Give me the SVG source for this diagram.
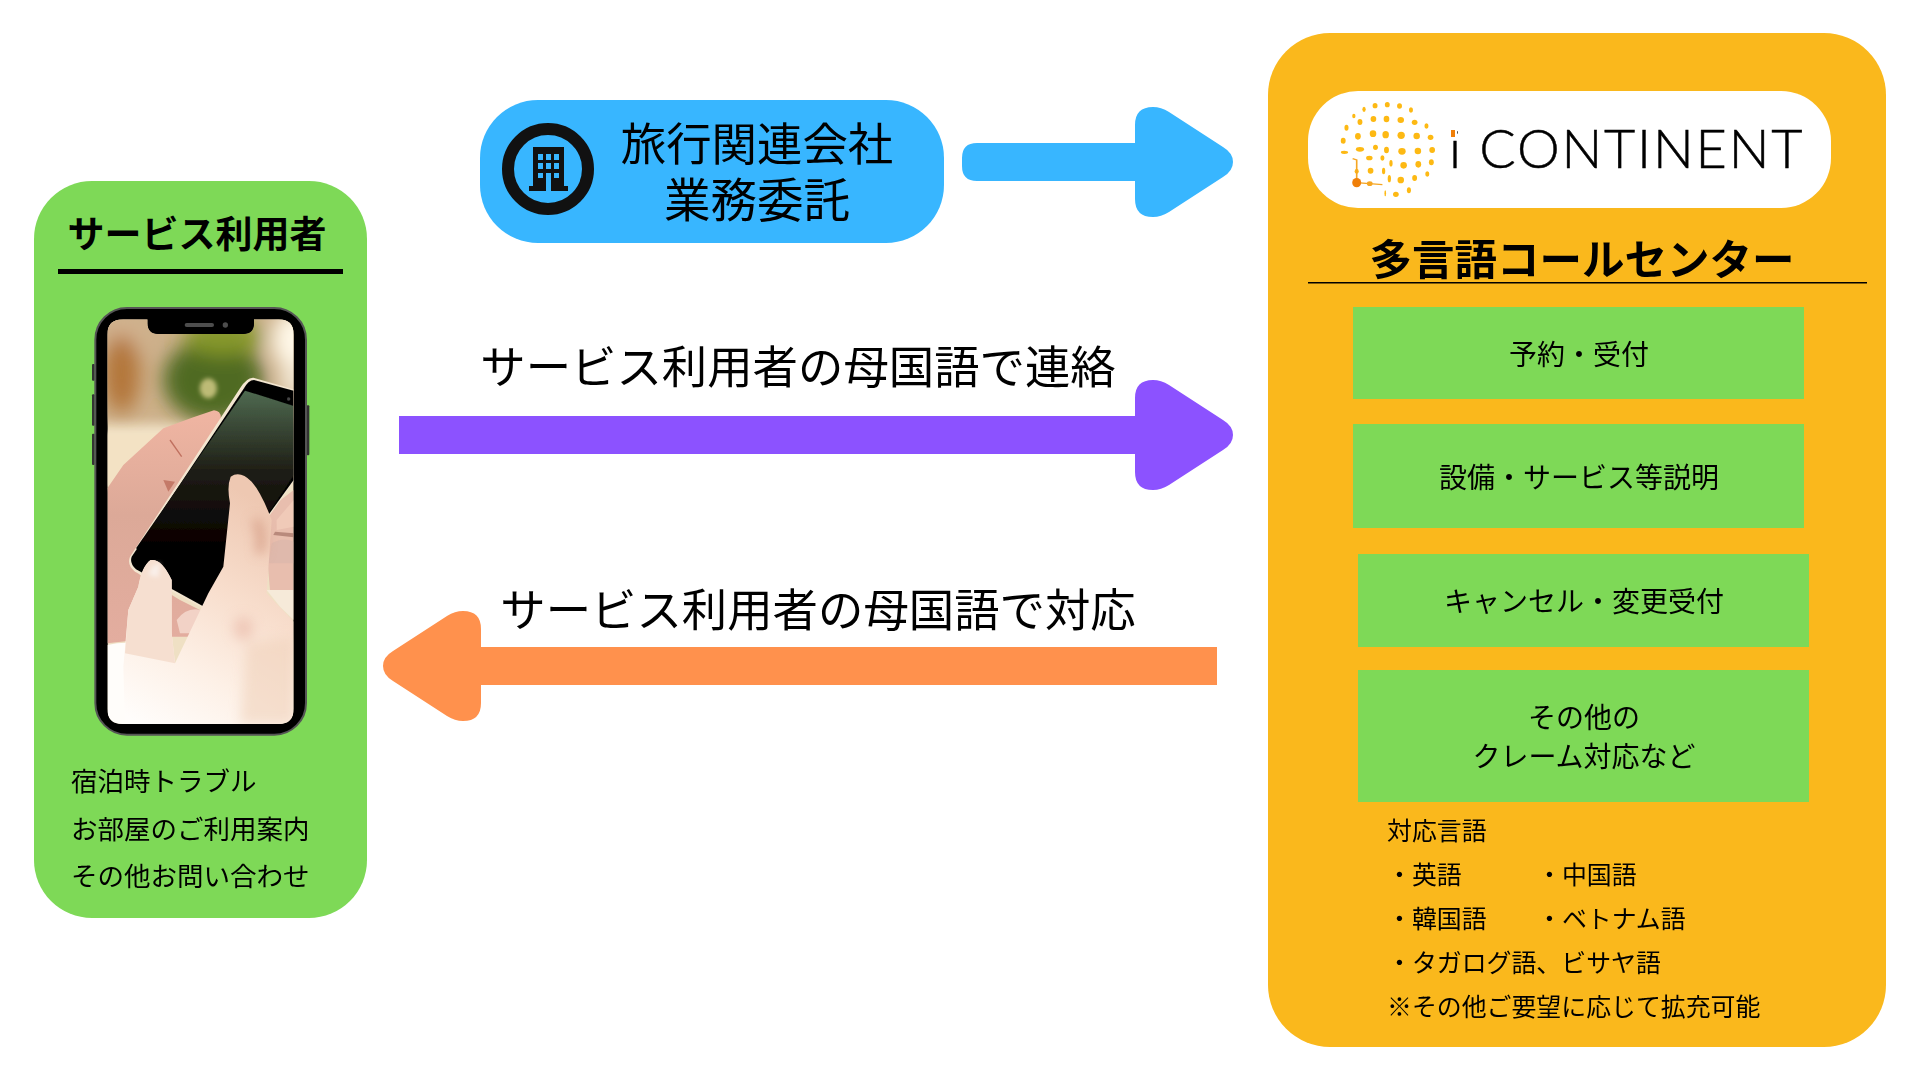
<svg xmlns="http://www.w3.org/2000/svg" width="1920" height="1080" viewBox="0 0 1920 1080">
<style>
text{font-family:"Noto Sans CJK JP","Noto Sans",sans-serif;fill:#000}
.c{text-anchor:middle}
.b{font-weight:700}
.big{font-size:45.4px}
.box{font-size:28px}
.list{font-size:24.9px}
.left{font-size:26.5px}
.gr{fill:#7ED957}
.d{fill:#FDB913}
.o{fill:#F07F09}
</style>
<defs>
<linearGradient id="scr" x1="0" y1="0" x2="0" y2="1"><stop offset="0" stop-color="#4f6a50"/><stop offset=".4" stop-color="#1e1d15"/><stop offset=".75" stop-color="#060101"/><stop offset="1" stop-color="#000"/></linearGradient>
<linearGradient id="hand" x1="0" y1="0" x2="0" y2="1"><stop offset="0" stop-color="#f0b5a2"/><stop offset=".45" stop-color="#dca998"/><stop offset="1" stop-color="#e3ad9f"/></linearGradient>
<linearGradient id="fg" gradientUnits="userSpaceOnUse" x1="180" y1="1272" x2="560" y2="620"><stop offset="0" stop-color="#fffdfb"/><stop offset=".3" stop-color="#fdf0e6"/><stop offset=".62" stop-color="#f8decd"/><stop offset="1" stop-color="#eec8b2"/></linearGradient>
<filter id="photo" x="-5%" y="-5%" width="110%" height="110%"><feGaussianBlur stdDeviation="2"/></filter>
<filter id="b30" x="-60%" y="-60%" width="220%" height="220%"><feGaussianBlur stdDeviation="28"/></filter>
<filter id="b5" x="-30%" y="-30%" width="160%" height="160%"><feGaussianBlur stdDeviation="6"/></filter>
<filter id="b14" x="-40%" y="-40%" width="180%" height="180%"><feGaussianBlur stdDeviation="18"/></filter>
<clipPath id="sc"><path d="M130 58H203V70Q203 102 235 102H490Q522 102 522 70V58H595Q641 58 641 104V1226Q641 1272 595 1272H128Q82 1272 82 1226V104Q82 58 130 58Z"/></clipPath>
</defs>

<g id="connectors">
<path id="arrow-blue" fill="#38B6FF" d="M977 143H1135V125Q1135 107 1153 107Q1161 107 1169 112L1223 147Q1233 153 1233 162Q1233 171 1223 177L1169 212Q1161 217 1153 217Q1135 217 1135 199V181H977Q962 181 962 166V158Q962 143 977 143Z"/>
<path id="arrow-purple" fill="#8C52FF" d="M399 416H1135V398Q1135 380 1153 380Q1161 380 1169 385L1223 420Q1233 426 1233 435Q1233 444 1223 450L1169 485Q1161 490 1153 490Q1135 490 1135 472V454H399Z"/>
<path id="arrow-orange" fill="#FF914D" d="M1217 647H481V629Q481 611 463 611Q455 611 447 616L393 651Q383 657 383 666Q383 675 393 681L447 716Q455 721 463 721Q481 721 481 703V685H1217Z"/>
</g>

<g id="users">
<rect x="34" y="181" width="333" height="737" rx="58" class="gr"/>
<text x="197" y="247.5" class="c b" font-size="37">サービス利用者</text>
<rect x="58" y="269" width="285" height="5"/>
<g id="phone" transform="translate(80 300) scale(.33333)">
<rect x="36" y="192" width="8" height="50" rx="3" fill="#333"/>
<rect x="36" y="283" width="8" height="94" rx="3" fill="#333"/>
<rect x="36" y="401" width="8" height="94" rx="3" fill="#333"/>
<rect x="680" y="316" width="8" height="150" rx="3" fill="#333"/>
<rect x="46" y="24" width="632" height="1280" rx="95" fill="#000" stroke="#555" stroke-width="6"/>
<g clip-path="url(#sc)">
<rect x="82" y="58" width="560" height="1214" fill="#efe0c4"/>
<rect x="40" y="20" width="640" height="350" fill="#cdb08a" filter="url(#b14)"/>
<g filter="url(#b30)">
<ellipse cx="130" cy="120" rx="60" ry="60" fill="#d6b694"/>
<ellipse cx="125" cy="220" rx="55" ry="120" fill="#b3763a"/>
<ellipse cx="400" cy="240" rx="150" ry="125" fill="#4f6a22"/>
<ellipse cx="430" cy="110" rx="120" ry="55" fill="#86982a"/>
<ellipse cx="640" cy="120" rx="65" ry="90" fill="#fff8e8"/>
<ellipse cx="640" cy="240" rx="35" ry="60" fill="#f6eedd"/>
</g>
<ellipse cx="385" cy="265" rx="26" ry="30" fill="#bdbb76" filter="url(#b5)"/>
<rect x="60" y="395" width="290" height="170" fill="#f3e2c4" filter="url(#b5)"/>
<g filter="url(#photo)">
<path d="M82 565L130 495L250 385L340 352L402 331Q425 333 422 358L330 510L270 590L150 790L185 830L300 900L360 930L350 1010L260 1010L82 1030Z" fill="url(#hand)"/>
<path d="M270 420L305 470" stroke="#c0705f" stroke-width="4" fill="none"/>
<path d="M250 540L285 545L265 575Z" fill="#c47a68"/>
<path d="M290 960Q320 920 362 930L340 1000L300 1000Z" fill="#f2d2c6"/>
<path d="M550 640L641 570V870L570 870Z" fill="#e8beae"/>
<path d="M590 660L641 600V680L590 690Z" fill="#f0cab8"/>
<path d="M575 730Q610 710 641 725V790L565 790Z" fill="#dfb9ac"/>
<path d="M641 700L585 695L580 705L641 712Z" fill="#b98a7c"/>
<path d="M560 870L641 870V960L600 920Z" fill="#f6ead9"/>
<path d="M520 233Q500 232 480 265L150 770Q140 795 165 815L370 925L641 545V268Z" fill="#f3e6d0"/>
<path d="M522 240Q505 240 490 268L155 770Q148 790 168 808L368 918L641 540V272Z" fill="#050505"/>
<path d="M495 272L641 318V525L575 625L375 880L168 745Z" fill="url(#scr)"/>
<circle cx="626" cy="297" r="5" fill="#444"/>
<path d="M82 1035Q150 1020 200 1040L250 1272H82Z" fill="#fffdfa"/>
<path d="M641 965L560 880L575 660Q545 580 515 545Q480 510 452 530Q440 560 450 610L430 800L385 880L285 1090L275 1000L275 840Q245 775 212 780Q185 800 175 860L145 930L130 1100L135 1272H641Z" fill="url(#fg)"/>
<path d="M275 1000L275 840Q245 775 212 780Q185 800 175 860L145 930L135 1060L285 1090Z" fill="#f6dfd0"/>
</g>
<g filter="url(#b14)">
<path d="M480 1272L641 1272V1010L500 1030Z" fill="#f0d2bc" opacity=".6"/>
<path d="M525 660Q550 690 540 760" stroke="#d59c85" stroke-width="22" fill="none"/>
<ellipse cx="490" cy="985" rx="30" ry="35" fill="#e9b9a8" opacity=".6"/>
</g>
<path d="M205 825Q215 792 240 790L235 832Z" fill="#f9efe9" filter="url(#b5)"/>
</g>
<path d="M203 50V70Q203 102 235 102H490Q522 102 522 70V50Z" fill="#000"/>
<rect x="314" y="69" width="88" height="12" rx="6" fill="#4d4d4d"/>
<circle cx="436" cy="75" r="8" fill="#4d4d4d"/>
</g>
<text x="71" y="791" class="left">宿泊時トラブル</text>
<text x="71" y="839" class="left">お部屋のご利用案内</text>
<text x="71" y="886" class="left">その他お問い合わせ</text>
</g>

<g id="agency">
<rect x="480" y="100" width="464" height="143" rx="58" fill="#38B6FF"/>
<g id="building">
<circle cx="548" cy="169" r="40" fill="none" stroke="#111" stroke-width="12"/>
<path fill="#111" fill-rule="evenodd" d="M533 147H564V186H568V191H529V186H533ZM538 154V160H543V154ZM546 154V160H551V154ZM554 154V160H559V154ZM538 163V169H543V163ZM546 163V169H551V163ZM554 163V169H559V163ZM538 173V178H543V173ZM554 173V178H559V173ZM546 173V191H551V173Z"/>
</g>
<text x="757" y="161" class="c big">旅行関連会社</text>
<text x="757" y="217" class="c" font-size="46.5">業務委託</text>
</g>

<g id="labels">
<text x="798" y="383.5" class="c big">サービス利用者の母国語で連絡</text>
<text x="818" y="626.5" class="c big">サービス利用者の母国語で対応</text>
</g>

<g id="center">
<rect x="1268" y="33" width="618" height="1014" rx="62" fill="#FAB81C"/>
<rect x="1308" y="91" width="523" height="117" rx="50" fill="#fff"/>
<g id="logo" transform="translate(1260 20) scale(.408 .3333)">
<g class="d">
<ellipse cx="255" cy="268" rx="4" ry="8"/><ellipse cx="282" cy="257" rx="6" ry="8"/><ellipse cx="312" cy="254" rx="6" ry="8"/><ellipse cx="342" cy="258" rx="6" ry="8"/><ellipse cx="370" cy="270" rx="5" ry="8"/>
<ellipse cx="230" cy="288" rx="4" ry="7"/><ellipse cx="245" cy="306" rx="6" ry="9"/><ellipse cx="278" cy="297" rx="7" ry="9"/><ellipse cx="310" cy="297" rx="7" ry="10"/><ellipse cx="345" cy="300" rx="8" ry="9"/><ellipse cx="379" cy="307" rx="7" ry="8"/><ellipse cx="408" cy="318" rx="5" ry="8"/>
<ellipse cx="212" cy="323" rx="5" ry="9"/><ellipse cx="240" cy="349" rx="7" ry="10"/><ellipse cx="277" cy="341" rx="8" ry="10"/><ellipse cx="308" cy="344" rx="8" ry="11"/><ellipse cx="346" cy="346" rx="9" ry="11"/><ellipse cx="384" cy="348" rx="8" ry="10"/><ellipse cx="418" cy="352" rx="7" ry="8"/>
<ellipse cx="204" cy="362" rx="6" ry="9"/><ellipse cx="207" cy="397" rx="9" ry="5"/><ellipse cx="245" cy="388" rx="10" ry="7"/><ellipse cx="283" cy="382" rx="6" ry="8"/><ellipse cx="310" cy="390" rx="6" ry="10"/><ellipse cx="348" cy="394" rx="9" ry="10"/><ellipse cx="387" cy="393" rx="8" ry="10"/><ellipse cx="422" cy="390" rx="7" ry="9"/>
<ellipse cx="268" cy="414" rx="8" ry="7"/><ellipse cx="300" cy="414" rx="5" ry="8"/><ellipse cx="321" cy="430" rx="4" ry="10"/><ellipse cx="352" cy="436" rx="8" ry="10"/><ellipse cx="388" cy="433" rx="7" ry="10"/><ellipse cx="420" cy="427" rx="6" ry="9"/>
<ellipse cx="237" cy="454" rx="5" ry="8"/><ellipse cx="271" cy="452" rx="7" ry="9"/><ellipse cx="303" cy="453" rx="4" ry="10"/><ellipse cx="410" cy="462" rx="5" ry="8"/><ellipse cx="379" cy="474" rx="6" ry="9"/><ellipse cx="345" cy="480" rx="8" ry="10"/><ellipse cx="317" cy="476" rx="4" ry="11"/>
<ellipse cx="365" cy="511" rx="5" ry="9"/><ellipse cx="333" cy="523" rx="7" ry="8"/><ellipse cx="307" cy="520" rx="2" ry="9"/>
</g>
<path d="M227 416L237 420V488L300 494" fill="none" stroke="#F5A623" stroke-width="4"/>
<ellipse cx="237" cy="488" rx="11" ry="14" class="o"/>
<ellipse cx="269" cy="491" rx="7" ry="7" fill="#F5A623"/>
</g>
<text x="1449" y="167.5" font-size="54" letter-spacing="1.8" stroke="#000" stroke-width=".5" style="font-family:Lato,'Noto Sans',sans-serif;font-weight:300">i CONTINENT</text>
<rect x="1448" y="127" width="9" height="11" fill="#fff"/>
<rect x="1451" y="130" width="4" height="7" class="o"/>
<text x="1582" y="275" class="c b" font-size="42.5">多言語コールセンター</text>
<rect x="1308" y="282" width="559" height="1.5"/>
<g id="box1"><rect x="1353" y="307" width="451" height="92" class="gr"/><text x="1579" y="364.5" class="c box">予約・受付</text></g>
<g id="box2"><rect x="1353" y="424" width="451" height="104" class="gr"/><text x="1579" y="488" class="c box">設備・サービス等説明</text></g>
<g id="box3"><rect x="1358" y="554" width="451" height="93" class="gr"/><text x="1584" y="612" class="c box">キャンセル・変更受付</text></g>
<g id="box4"><rect x="1358" y="670" width="451" height="132" class="gr"/><text x="1584" y="728" class="c box">その他の</text><text x="1584" y="767" class="c box">クレーム対応など</text></g>
<g id="languages">
<text x="1387" y="840" class="list">対応言語</text>
<text x="1387" y="884" class="list">・英語</text>
<text x="1537" y="884" class="list">・中国語</text>
<text x="1387" y="928" class="list">・韓国語</text>
<text x="1537" y="928" class="list">・ベトナム語</text>
<text x="1387" y="972" class="list">・タガログ語、ビサヤ語</text>
<text x="1387" y="1016" class="list">※その他ご要望に応じて拡充可能</text>
</g>
</g>
</svg>
